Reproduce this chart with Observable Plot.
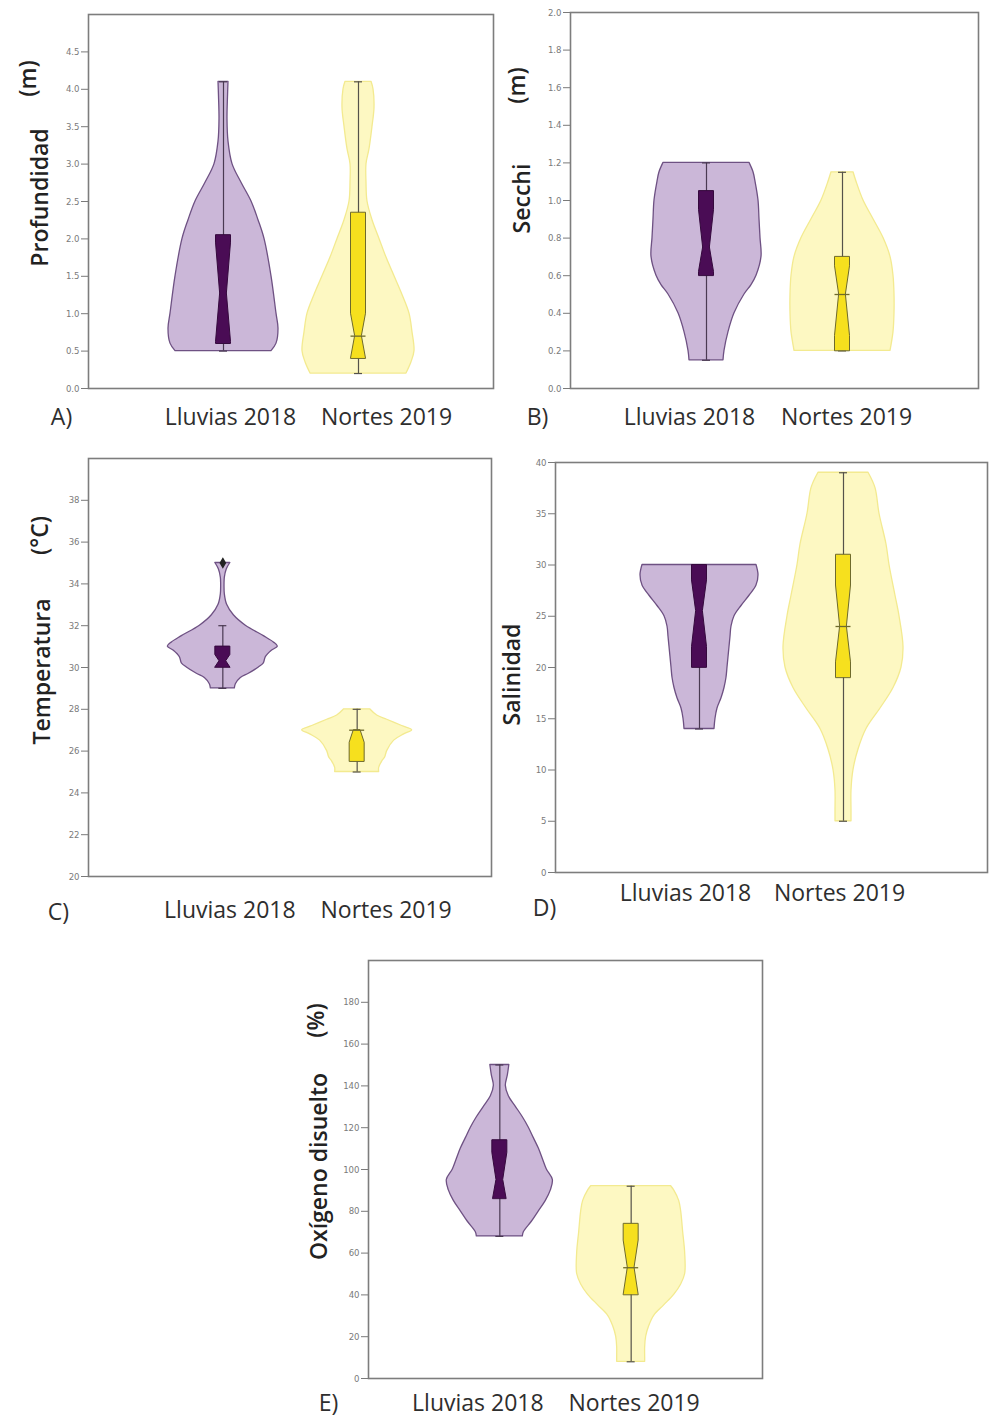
<!DOCTYPE html>
<html>
<head>
<meta charset="utf-8">
<script src="https://cdn.jsdelivr.net/npm/d3@7"></script>
<script src="https://cdn.jsdelivr.net/npm/@observablehq/plot@0.6"></script>
<style>
  body { margin: 0; background: #fff; }
  #page { position: relative; width: 989px; height: 1420px; overflow: hidden; background: #fff; }
  #page > div { position: absolute; }
  #page svg { display: block; background: none; overflow: visible; }
</style>
</head>
<body>
<div id="page"></div>
<script>
// ---------------- DATA ----------------
const categories = ["Lluvias 2018", "Nortes 2019"];

// Violin outlines: [value, half-width of the density in px]
const profundidadLluvias = [[0.5,48],[0.6,53],[0.8,55],[1.0,53],[1.5,48],[2.0,41],[2.25,35],[2.5,28],[2.75,18],[3.0,9],[3.3,5],[3.6,4],[3.9,4.5],[4.1,5]];
const profundidadNortes  = [[0.2,48],[0.35,53],[0.5,56],[0.75,54],[1.0,51],[1.25,44],[1.5,36],[1.75,28],[2.0,21],[2.25,14],[2.5,9],[2.75,8],[3.0,8],[3.2,11],[3.5,14],[3.75,16],[4.0,15],[4.1,13]];
const secchiLluvias = [[0.15,17],[0.2,18],[0.3,22],[0.4,28],[0.5,38],[0.55,45],[0.6,50],[0.7,55],[0.8,54],[0.9,53],[1.0,52],[1.1,49],[1.15,47],[1.2,43]];
const secchiNortes  = [[0.2,48],[0.3,51],[0.4,52],[0.5,52],[0.6,51],[0.7,48],[0.8,41],[0.9,31],[1.0,21],[1.1,14],[1.15,11]];
const temperaturaLluvias = [[29.0,12],[29.2,13],[29.5,18],[29.7,26],[30.0,36],[30.2,41],[30.5,43],[30.8,49],[31.0,55],[31.2,51],[31.5,41],[32.0,23],[32.5,11],[33.0,4.3],[33.5,2],[34.0,1.7],[34.3,2],[34.7,4],[35.0,7.5]];
const temperaturaNortes  = [[25.0,22],[25.2,22],[25.5,25],[25.7,28],[26.0,30],[26.5,37],[26.8,47],[27.0,55],[27.2,45],[27.5,30],[27.7,20],[28.0,13]];
const salinidadLluvias = [[14,15],[15,16],[16,18],[17,22],[18,25],[19,27],[20,28],[21,29],[22,30],[23,31],[24,32],[25,35],[26,42],[27,50],[28,57],[29,59],[30,57]];
const salinidadNortes  = [[5,8],[6,8],[8,8],[10,10],[12,15],[14,23],[16,37],[18,50],[20,58],[22,60],[25,56],[27,52],[30,46],[32,43],[35,36],[37.5,32],[39,25]];
const oxigenoLluvias = [[68,23],[70,24],[75,32],[80,39],[85,46],[90,51],[95,53],[100,47],[105,43],[110,39],[115,34],[120,29],[125,23],[130,16],[135,9],[140,6],[145,8],[150,9.5]];
const oxigenoNortes  = [[8,14],[10,14],[15,14],[20,15],[25,18],[30,23],[35,33],[40,43],[45,50],[50,54],[60,54],[70,52],[80,50],[85,48],[90,43],[92,40]];

// Notched boxes: [min, Q1, notch low, median, notch high, Q3, max] per category
const profundidadBox = [[0.5,0.6,0.62,1.27,1.95,2.05,4.1],[0.2,0.4,0.4,0.7,1.0,2.35,4.1]];
const secchiBox      = [[0.15,0.6,0.62,0.75,0.95,1.05,1.2],[0.2,0.2,0.28,0.5,0.65,0.7,1.15]];
const temperaturaBox = [[29,30,30.0,30.3,30.6,31,32],[25,25.5,26.4,27,27,27,28]];
const salinidadBox   = [[14,20,22,25.5,28.5,30,30],[5,19,20.5,24,28,31,39]];
const oxigenoBox     = [[68,86,84,95,108,114,150],[8,40,40,53,66,74,92]];

// Extreme values: [category index, value]
const temperaturaOutliers = [[0,35]];

// Axis ticks
const profundidadTicks = [0,0.5,1,1.5,2,2.5,3,3.5,4,4.5];
const secchiTicks = [0,0.2,0.4,0.6,0.8,1.0,1.2,1.4,1.6,1.8,2.0];
const temperaturaTicks = [20,22,24,26,28,30,32,34,36,38];
const salinidadTicks = [0,5,10,15,20,25,30,35,40];
const oxigenoTicks = [0,20,40,60,80,100,120,140,160,180];

// ---------------- STYLE ----------------
const violinFill = ["#cbb7d8", "#fdf8c2"];
const violinStroke = ["#6e5183", "#f3ea90"];
const boxFill = ["#4a0c55", "#f6e01e"];
const boxStroke = ["#35093d", "#6e6a2c"];
const whiskerStroke = ["#4a3a52", "#55524a"];
const labelFont = "'Open Sans', 'Noto Sans', sans-serif";
const tickFont = "'Liberation Sans Narrow', 'DejaVu Sans Condensed', 'Liberation Sans', sans-serif";

const panels = [
  {id:"A", left:0, top:0, svgW:497, svgH:440, frame:{L:88,T:14,R:493,B:388},
   domain:[0,5], ticks:profundidadTicks, fmt:d3.format(".1f"),
   violins:[profundidadLluvias, profundidadNortes], boxes:profundidadBox, outliers:[],
   catDx:[7,28], catDy:29, letterDx:-27, letterDy:29,
   ylabels:[{t:"Profundidad",dx:-48,dy:-4},{t:"(m)",dx:-60,dy:-123}]},
  {id:"B", left:495, top:0, svgW:494, svgH:440, frame:{L:570,T:12,R:978,B:388},
   domain:[0,2], ticks:secchiTicks, fmt:d3.format(".1f"),
   violins:[secchiLluvias, secchiNortes], boxes:secchiBox, outliers:[],
   catDx:[-17,4], catDy:29, letterDx:-33, letterDy:29,
   ylabels:[{t:"Secchi",dx:-48,dy:-2},{t:"(m)",dx:-53,dy:-115}]},
  {id:"C", left:0, top:446, svgW:494, svgH:480, frame:{L:88,T:458,R:491,B:876},
   domain:[20,40], ticks:temperaturaTicks, fmt:d3.format("d"),
   violins:[temperaturaLluvias, temperaturaNortes], boxes:temperaturaBox, outliers:temperaturaOutliers,
   catDx:[7,29], catDy:34, letterDx:-30, letterDy:36,
   ylabels:[{t:"Temperatura",dx:-46,dy:4},{t:"(°C)",dx:-48,dy:-132}]},
  {id:"D", left:495, top:446, svgW:494, svgH:480, frame:{L:555,T:462,R:987,B:872},
   domain:[0,40], ticks:salinidadTicks, fmt:d3.format("d"),
   violins:[salinidadLluvias, salinidadNortes], boxes:salinidadBox, outliers:[],
   catDx:[-14,-4], catDy:21, letterDx:-11, letterDy:36,
   ylabels:[{t:"Salinidad",dx:-43,dy:7}]},
  {id:"E", left:280, top:948, svgW:490, svgH:472, frame:{L:368,T:960,R:762,B:1378},
   domain:[0,200], ticks:oxigenoTicks, fmt:d3.format("d"),
   violins:[oxigenoLluvias, oxigenoNortes], boxes:oxigenoBox, outliers:[],
   catDx:[-22,3], catDy:25, letterDx:-40, letterDy:25,
   ylabels:[{t:"Oxígeno disuelto",dx:-49,dy:-3},{t:"(%)",dx:-52,dy:-149}]}
];

const BOX_HALF = 7.5;   // px
const NOTCH_FRAC = 0.45;
const CAP_HALF = 4;     // px

function notchOutline(b, W) {
  const [mn, q1, nlo, med, nhi, q3, mx] = b;
  const Wn = W * NOTCH_FRAC;
  const widthAt = (y) => {
    if (y <= med) {
      if (y <= nlo || med === nlo) return y === med ? Wn : W;
      return W - (W - Wn) * (y - nlo) / (med - nlo);
    } else {
      if (y >= nhi || nhi === med) return W;
      return Wn + (W - Wn) * (y - med) / (nhi - med);
    }
  };
  const ys = Array.from(new Set([q1, Math.max(q1, Math.min(q3, nlo)), med, Math.max(q1, Math.min(q3, nhi)), q3])).sort((a, b) => a - b);
  return ys.map(y => [y, widthAt(y)]);
}

const page = document.getElementById("page");

for (const p of panels) {
  const f = p.frame;
  const innerW = f.R - f.L;
  const k = 3 / innerW; // px -> x units
  const marks = [];

  p.violins.forEach((prof, i) => {
    const c = i + 1;
    marks.push(Plot.areaX(prof, {
      y: d => d[0], x1: d => c - d[1] * k, x2: d => c + d[1] * k,
      curve: "catmull-rom", fill: violinFill[i], stroke: violinStroke[i], strokeWidth: 1.3
    }));
  });

  p.boxes.forEach((b, i) => {
    const c = i + 1;
    marks.push(Plot.ruleX([b], {x: () => c, y1: d => d[0], y2: d => d[6], stroke: whiskerStroke[i], strokeWidth: 1.2}));
    marks.push(Plot.ruleY([b[0], b[6]], {y: d => d, x1: () => c - CAP_HALF * k, x2: () => c + CAP_HALF * k, stroke: whiskerStroke[i], strokeWidth: 1.2}));
    const outline = notchOutline(b, BOX_HALF);
    marks.push(Plot.areaX(outline, {
      y: d => d[0], x1: d => c - d[1] * k, x2: d => c + d[1] * k,
      curve: "linear", fill: boxFill[i], stroke: boxStroke[i], strokeWidth: 1
    }));
    if (i === 1) {
      marks.push(Plot.ruleY([b[3]], {y: d => d, x1: () => c - BOX_HALF * k, x2: () => c + BOX_HALF * k, stroke: boxStroke[i], strokeWidth: 1.3}));
    }
  });

  if (p.outliers.length) {
    marks.push(Plot.dot(p.outliers, {x: d => d[0] + 1, y: d => d[1], r: 2.6, fill: "#222", stroke: "#222", symbol: "diamond"}));
  }

  marks.push(Plot.frame({stroke: "#7d7d7d", strokeWidth: 1.6}));
  marks.push(Plot.axisY({ticks: p.ticks, tickFormat: p.fmt, tickSize: 7, tickPadding: 2,
    fontSize: 9.5, fontFamily: tickFont, color: "#7a7a7a", label: null}));

  categories.forEach((cat, i) => {
    marks.push(Plot.text([cat], {x: [i + 1], text: d => d, frameAnchor: "bottom",
      textAnchor: "middle", lineAnchor: "middle",
      dx: p.catDx[i], dy: p.catDy, fontSize: 23, fontFamily: labelFont, fill: "#2e2e2e"}));
  });
  marks.push(Plot.text([p.id + ")"], {text: d => d, frameAnchor: "bottom-left",
    textAnchor: "middle", lineAnchor: "middle",
    dx: p.letterDx, dy: p.letterDy, fontSize: 23, fontFamily: labelFont, fill: "#2e2e2e"}));
  for (const yl of p.ylabels) {
    marks.push(Plot.text([yl.t], {text: d => d, frameAnchor: "left", rotate: -90,
      textAnchor: "middle", lineAnchor: "middle",
      dx: yl.dx, dy: yl.dy, fontSize: 23, fontWeight: 600, fontFamily: labelFont, fill: "#222"}));
  }

  const svg = Plot.plot({
    width: p.svgW, height: p.svgH,
    marginLeft: f.L - p.left, marginRight: p.left + p.svgW - f.R,
    marginTop: f.T - p.top, marginBottom: p.top + p.svgH - f.B,
    x: {domain: [0, 3], axis: null},
    y: {domain: p.domain, label: null},
    style: {background: "none", overflow: "visible"},
    marks
  });
  const holder = document.createElement("div");
  holder.style.left = p.left + "px";
  holder.style.top = p.top + "px";
  holder.appendChild(svg);
  page.appendChild(holder);
}
</script>
</body>
</html>
